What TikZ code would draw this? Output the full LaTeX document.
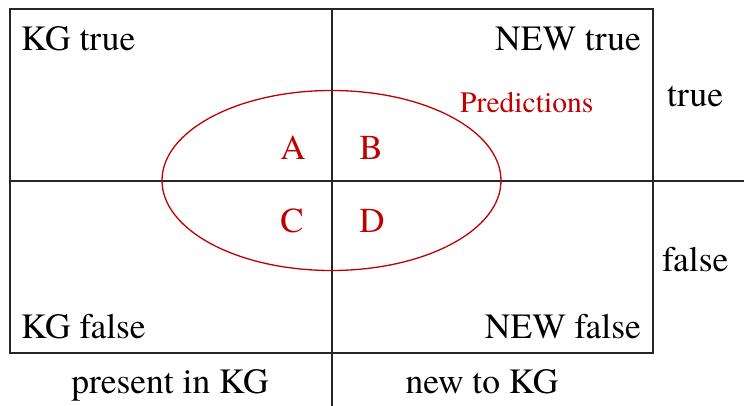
\documentclass[tikz,border=0pt]{standalone}
\usepackage{fontspec}
\newfontfamily\timesx{TeX Gyre Termes}
\definecolor{predred}{HTML}{C00000}
\definecolor{linegray}{HTML}{262626}
\begin{document}
\begin{tikzpicture}[x=1pt,y=-1pt,
  lbl/.style={inner sep=0pt, font=\timesx\fontsize{35.5}{40}\selectfont, text=black},
  rlbl/.style={inner sep=0pt, font=\timesx\fontsize{35}{40}\selectfont, text=predred},
  plbl/.style={inner sep=0pt, font=\timesx\fontsize{29.6}{34}\selectfont, text=predred},
  frame/.style={draw=linegray, line width=1.5pt},
  pred/.style={draw=predred, line width=1.3pt}]
\useasboundingbox (0,0) rectangle (744,406);
% frame
\coordinate (tl) at (10,9);
\coordinate (br) at (653,353);
\draw[frame] (tl) rectangle (br);
\coordinate (vtop) at (332,9);
\coordinate (vbot) at (332,406);
\coordinate (hleft) at (10,181);
\coordinate (hright) at (744,181);
\draw[frame] (vtop) -- (vbot);
\draw[frame] (hleft) -- (hright);
% ellipse
\coordinate (ec) at (331.5,180.5);
\draw[pred] (ec) ellipse [x radius=169.5, y radius=90];
% labels
\node[lbl, anchor=base west] (kgtrue) at (21,51) {KG true};
\node[lbl, anchor=base east] (newtrue) at (641,51) {NEW true};
\node[lbl, anchor=base west] (kgfalse) at (21,338) {KG false};
\node[lbl, anchor=base east] (newfalse) at (641,338) {NEW false};
\node[lbl, anchor=base west] (true) at (667,107) {true};
\node[lbl, anchor=base west] (false) at (662,271) {false};
\node[lbl, anchor=base] (present) at (170,393) {present in KG};
\node[lbl, anchor=base] (newkg) at (482,393) {new to KG};
\node[plbl, anchor=base west] (predictions) at (460,113) {Predictions};
\node[rlbl, anchor=base] (A) at (293,160) {A};
\node[rlbl, anchor=base] (B) at (371,160) {B};
\node[rlbl, anchor=base] (C) at (292,233) {C};
\node[rlbl, anchor=base] (D) at (372,233) {D};
\end{tikzpicture}
\end{document}
